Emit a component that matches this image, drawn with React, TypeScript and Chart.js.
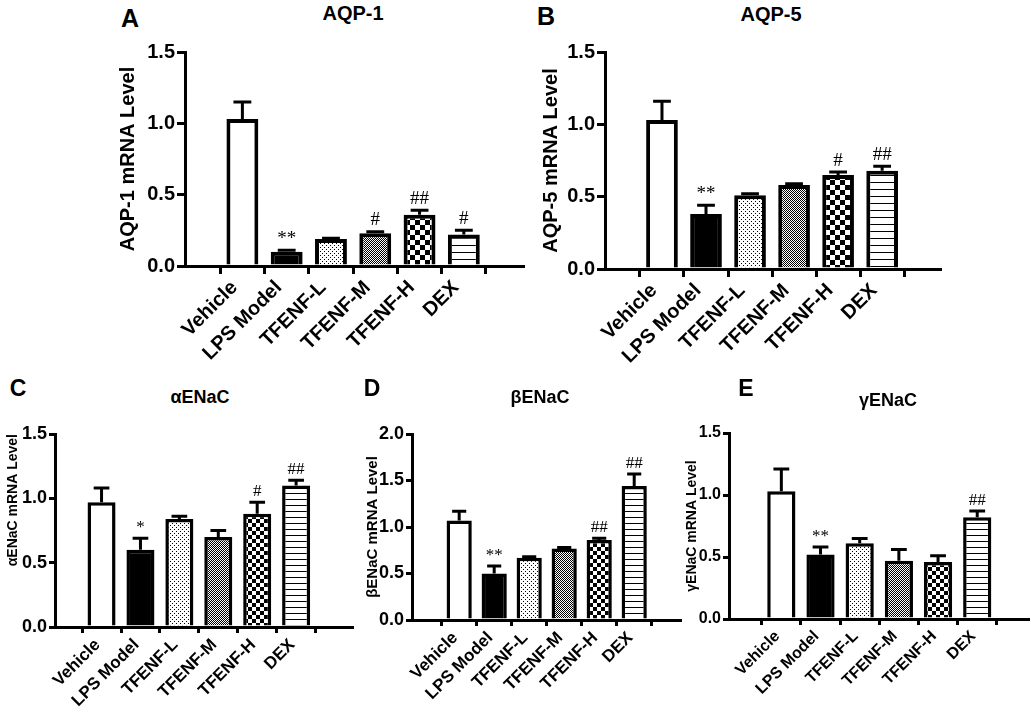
import { useEffect, useRef } from "react";
import { Chart, registerables } from "chart.js";

Chart.register(...registerables);

const FONT = "'Liberation Sans', Arial, Helvetica, sans-serif";

// treatment groups, same order in every panel
const groups = ["Vehicle", "LPS Model", "TFENF-L", "TFENF-M", "TFENF-H", "DEX"];

// A - AQP-1
const aqp1Mean = [1.03, 0.1, 0.19, 0.23, 0.36, 0.22];
const aqp1Sem = [0.12, 0.01, 0.005, 0.01, 0.03, 0.03];
const aqp1Sig = ["", "**", "", "#", "##", "#"];

// B - AQP-5
const aqp5Mean = [1.03, 0.38, 0.51, 0.58, 0.65, 0.68];
const aqp5Sem = [0.13, 0.06, 0.01, 0.01, 0.02, 0.03];
const aqp5Sig = ["", "**", "", "", "#", "##"];

// C - alpha ENaC
const aEnacMean = [0.97, 0.6, 0.84, 0.7, 0.88, 1.1];
const aEnacSem = [0.11, 0.09, 0.02, 0.05, 0.09, 0.04];
const aEnacSig = ["", "*", "", "", "#", "##"];

// D - beta ENaC
const bEnacMean = [1.07, 0.5, 0.67, 0.77, 0.86, 1.44];
const bEnacSem = [0.1, 0.08, 0.01, 0.01, 0.02, 0.13];
const bEnacSig = ["", "**", "", "", "##", "##"];

// E - gamma ENaC
const gEnacMean = [1.03, 0.52, 0.61, 0.47, 0.46, 0.82];
const gEnacSem = [0.18, 0.06, 0.04, 0.09, 0.05, 0.05];
const gEnacSig = ["", "**", "", "", "", "##"];

type Panel = {
  yLabel: string;
  yMax: number;
  mean: number[];
  sem: number[];
  sig: string[];
  // layout (page px)
  left: number;
  top: number;
  width: number;
  height: number;
  plotLeft: number;
  plotTop: number;
  plotRight: number;
  plotBottom: number;
  xMin: number;
  xMax: number;
  yTitleX: number;
  yTitleAlign: string;
  tickFont: number;
  labelFont: number;
  labelShift: number;
  titleFont: number;
  sigFont: number;
  barBorder: number;
  axisWidth: number;
  tickLen: number;
  small: boolean;
};

const panels: Panel[] = [
  {
    yLabel: "AQP-1 mRNA Level", yMax: 1.5, mean: aqp1Mean, sem: aqp1Sem, sig: aqp1Sig,
    left: 100, top: 35, width: 430, height: 345,
    plotLeft: 185, plotTop: 52, plotRight: 523, plotBottom: 266, xMin: -0.66, xMax: 5.7,
    yTitleX: 128, yTitleAlign: "center", tickFont: 20, labelFont: 20, labelShift: -8,
    titleFont: 20, sigFont: 19, barBorder: 4, axisWidth: 3, tickLen: 8, small: false,
  },
  {
    yLabel: "AQP-5 mRNA Level", yMax: 1.5, mean: aqp5Mean, sem: aqp5Sem, sig: aqp5Sig,
    left: 525, top: 35, width: 420, height: 350,
    plotLeft: 605, plotTop: 52, plotRight: 940, plotBottom: 269, xMin: -0.66, xMax: 5.68,
    yTitleX: 551, yTitleAlign: "center", tickFont: 20, labelFont: 20, labelShift: -8,
    titleFont: 20, sigFont: 19, barBorder: 4, axisWidth: 3, tickLen: 8, small: false,
  },
  {
    yLabel: "αENaC mRNA Level", yMax: 1.5, mean: aEnacMean, sem: aEnacSem, sig: aEnacSig,
    left: 0, top: 415, width: 362, height: 301,
    plotLeft: 55, plotTop: 434, plotRight: 352, plotBottom: 627, xMin: -0.56, xMax: 5.8,
    yTitleX: 13, yTitleAlign: "end", tickFont: 18, labelFont: 17, labelShift: -4,
    titleFont: 14, sigFont: 17, barBorder: 3.5, axisWidth: 3, tickLen: 6, small: true,
  },
  {
    yLabel: "βENaC mRNA Level", yMax: 2.0, mean: bEnacMean, sem: bEnacSem, sig: bEnacSig,
    left: 345, top: 415, width: 340, height: 301,
    plotLeft: 412, plotTop: 434, plotRight: 680, plotBottom: 620, xMin: -0.71, xMax: 5.67,
    yTitleX: 373, yTitleAlign: "center", tickFont: 18, labelFont: 17, labelShift: -4,
    titleFont: 15, sigFont: 17, barBorder: 3.5, axisWidth: 3, tickLen: 6, small: true,
  },
  {
    yLabel: "γENaC mRNA Level", yMax: 1.5, mean: gEnacMean, sem: gEnacSem, sig: gEnacSig,
    left: 680, top: 415, width: 351, height: 301,
    plotLeft: 729, plotTop: 433, plotRight: 1028, plotBottom: 619, xMin: -0.7, xMax: 5.66,
    yTitleX: 692, yTitleAlign: "center", tickFont: 16, labelFont: 16, labelShift: -4,
    titleFont: 14, sigFont: 17, barBorder: 3.5, axisWidth: 3, tickLen: 6, small: true,
  },
];

// panel letters and titles
const headings = [
  { text: "A", x: 130, y: 18, size: 25 },
  { text: "AQP-1", x: 353, y: 13, size: 20 },
  { text: "B", x: 546, y: 16, size: 25 },
  { text: "AQP-5", x: 771, y: 14, size: 20 },
  { text: "C", x: 18, y: 388, size: 23 },
  { text: "αENaC", x: 200, y: 397, size: 18 },
  { text: "D", x: 372, y: 388, size: 23 },
  { text: "βENaC", x: 540, y: 397, size: 18 },
  { text: "E", x: 746, y: 388, size: 23 },
  { text: "γENaC", x: 888, y: 400, size: 18 },
];

function tile(w: number, h: number, draw: (c: CanvasRenderingContext2D) => void) {
  const cv = document.createElement("canvas");
  cv.width = w;
  cv.height = h;
  const c = cv.getContext("2d")!;
  c.fillStyle = "#fff";
  c.fillRect(0, 0, w, h);
  c.fillStyle = "#000";
  draw(c);
  return cv;
}

function barFills(ctx: CanvasRenderingContext2D, small: boolean) {
  const dots = tile(4, 4, (c) => {
    c.fillRect(0, 0, 1, 1);
    c.fillRect(2, 2, 1, 1);
  });
  const fine = tile(2, 2, (c) => {
    c.fillRect(0, 0, 1, 1);
    c.fillRect(1, 1, 1, 1);
  });
  const ck = small ? 4 : 5;
  const checker = tile(ck * 2, ck * 2, (c) => {
    c.fillRect(0, 0, ck, ck);
    c.fillRect(ck, ck, ck, ck);
  });
  const gap = small ? 6 : 7;
  const stripes = tile(4, gap, (c) => c.fillRect(0, 0, 4, 1));
  return [
    "#ffffff",
    "#000000",
    ctx.createPattern(dots, "repeat"),
    ctx.createPattern(fine, "repeat"),
    ctx.createPattern(checker, "repeat"),
    ctx.createPattern(stripes, "repeat"),
  ];
}

// upper SEM whisker + significance marks
function semPlugin(p: Panel) {
  return {
    id: "semBars",
    afterDatasetsDraw(chart: any) {
      const ctx: CanvasRenderingContext2D = chart.ctx;
      const y = chart.scales.y;
      const meta = chart.getDatasetMeta(0);
      ctx.save();
      ctx.strokeStyle = "#000";
      ctx.lineWidth = p.axisWidth;
      meta.data.forEach((bar: any, i: number) => {
        const top = y.getPixelForValue(p.mean[i] + p.sem[i]);
        const half = bar.width * 0.28;
        ctx.beginPath();
        ctx.moveTo(bar.x, bar.y);
        ctx.lineTo(bar.x, top);
        ctx.moveTo(bar.x - half, top);
        ctx.lineTo(bar.x + half, top);
        ctx.stroke();
        if (p.sig[i]) {
          ctx.fillStyle = "#000";
          ctx.font = `${p.sigFont}px 'Liberation Serif', 'Times New Roman', serif`;
          ctx.textAlign = "center";
          ctx.textBaseline = "bottom";
          ctx.fillText(p.sig[i], bar.x, top - 2);
        }
      });
      ctx.restore();
    },
  };
}

function BarPanel({ p }: { p: Panel }) {
  const canvasRef = useRef<HTMLCanvasElement | null>(null);

  useEffect(() => {
    if (!canvasRef.current) return;
    const ctx = canvasRef.current.getContext("2d");
    if (!ctx) return;

    const yTitleLine = p.titleFont * 1.2;
    const chart = new Chart(ctx, {
      type: "bar",
      data: {
        datasets: [
          {
            data: p.mean.map((v, i) => ({ x: i, y: v })),
            backgroundColor: barFills(ctx, p.small) as any,
            borderColor: "#000",
            borderWidth: p.barBorder,
            borderSkipped: "start",
            categoryPercentage: 1,
            barPercentage: 0.72,
          },
        ],
      },
      options: {
        responsive: false,
        animation: false,
        layout: {
          padding: {
            left: 0,
            bottom: 0,
            top: p.plotTop - p.top,
            right: p.left + p.width - p.plotRight,
          },
        },
        plugins: {
          legend: { display: false },
          tooltip: { enabled: false },
        },
        scales: {
          x: {
            type: "linear",
            min: p.xMin,
            max: p.xMax,
            afterFit: (s: any) => {
              s.height = p.top + p.height - p.plotBottom;
            },
            afterBuildTicks: (s: any) => {
              s.ticks = groups.map((_, i) => ({ value: i }));
            },
            grid: {
              display: true,
              drawOnChartArea: false,
              drawTicks: true,
              tickLength: p.tickLen,
              lineWidth: p.axisWidth,
              color: "#000",
            },
            border: { display: true, width: p.axisWidth, color: "#000" },
            ticks: {
              autoSkip: false,
              minRotation: 45,
              maxRotation: 45,
              padding: 2,
              labelOffset: p.labelShift,
              color: "#000",
              font: { family: FONT, size: p.labelFont, weight: "bold" },
              callback: (_v: any, i: number) => groups[i] ?? "",
            },
          },
          y: {
            min: 0,
            max: p.yMax,
            afterFit: (s: any) => {
              s.width = p.plotLeft - p.left;
            },
            grid: {
              display: true,
              drawOnChartArea: false,
              drawTicks: true,
              tickLength: p.tickLen,
              lineWidth: p.axisWidth,
              color: "#000",
            },
            border: { display: true, width: p.axisWidth, color: "#000" },
            ticks: {
              stepSize: 0.5,
              padding: 2,
              color: "#000",
              font: { family: FONT, size: p.tickFont, weight: "bold" },
              callback: (v: any) => Number(v).toFixed(1),
            },
            title: {
              display: true,
              text: p.yLabel,
              align: p.yTitleAlign,
              color: "#000",
              font: { family: FONT, size: p.titleFont, weight: "bold", lineHeight: 1.2 },
              padding: { top: p.yTitleX - p.left - yTitleLine / 2, bottom: 0 },
            },
          },
        },
      } as any,
      plugins: [semPlugin(p)],
    });

    return () => {
      chart.destroy();
    };
  }, [p]);

  return (
    <div style={{ position: "absolute", left: p.left, top: p.top, width: p.width, height: p.height }}>
      <canvas
        ref={canvasRef}
        width={p.width}
        height={p.height}
        style={{ width: p.width, height: p.height, display: "block" }}
      ></canvas>
    </div>
  );
}

export default function App() {
  return (
    <div
      style={{
        position: "absolute",
        left: 0,
        top: 0,
        width: 1031,
        height: 716,
        background: "#fff",
        overflow: "hidden",
        fontFamily: FONT,
      }}
    >
      {panels.map((p, i) => (
        <BarPanel key={i} p={p} />
      ))}
      {headings.map((h) => (
        <div
          key={h.text}
          style={{
            position: "absolute",
            left: h.x,
            top: h.y,
            transform: "translate(-50%, -50%)",
            fontSize: h.size,
            fontWeight: "bold",
            lineHeight: 1,
            whiteSpace: "nowrap",
            color: "#000",
          }}
        >
          {h.text}
        </div>
      ))}
    </div>
  );
}
